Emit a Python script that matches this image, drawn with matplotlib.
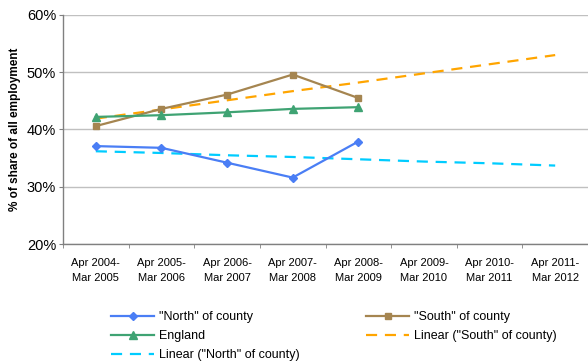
import numpy as np
import matplotlib
matplotlib.use('Agg')
import matplotlib.pyplot as plt
from matplotlib.ticker import FixedLocator, PercentFormatter

plt.rcParams['font.family'] = ['Liberation Sans', 'DejaVu Sans']

periods = ['Apr 2004-\nMar 2005', 'Apr 2005-\nMar 2006', 'Apr 2006-\nMar 2007',
           'Apr 2007-\nMar 2008', 'Apr 2008-\nMar 2009', 'Apr 2009-\nMar 2010',
           'Apr 2010-\nMar 2011', 'Apr 2011-\nMar 2012']

north = [37.1, 36.8, 34.2, 31.6, 37.9]
south = [40.6, 43.6, 46.1, 49.6, 45.5]
england = [42.2, 42.5, 43.0, 43.6, 43.9]
# trend lines
trend_south = [41.9, 43.5, 45.1, 46.7, 48.2, 49.8, 51.4, 53.0]
trend_north = [36.2, 35.9, 35.5, 35.2, 34.8, 34.4, 34.1, 33.7]

fig = plt.figure(figsize=(5.88, 3.62), dpi=100)
ax = fig.add_axes([63/588, 1 - 244/362, 1 - 63/588, (244 - 15)/362])

x_obs = np.arange(len(north))
x_all = np.arange(len(periods))

l_north, = ax.plot(x_obs, north, color='#4a7ef5', marker='D', markersize=4, lw=1.6,
                   label='"North" of county', zorder=4)
l_south, = ax.plot(x_obs, south, color='#a58550', marker='s', markersize=5, lw=1.6,
                   label='"South" of county', zorder=4)
l_eng, = ax.plot(x_obs, england, color='#3fa373', marker='^', markersize=6, lw=1.6,
                 label='England', zorder=4)
l_ts, = ax.plot(x_all, trend_south, color='#ffa500', lw=1.6, dashes=(5, 3.5),
                label='Linear ("South" of county)', zorder=3)
l_tn, = ax.plot(x_all, trend_north, color='#00ccff', lw=1.6, dashes=(5, 3.5),
                label='Linear ("North" of county)', zorder=3)

ax.set_xlim(-0.5, len(periods) - 0.5)
ax.set_ylim(20, 60)
ax.set_yticks([20, 30, 40, 50, 60])
ax.yaxis.set_major_formatter(PercentFormatter(decimals=0))
ax.set_xticks(x_all)
ax.set_xticklabels(periods, fontsize=8, linespacing=1.6)
ax.xaxis.set_minor_locator(FixedLocator(np.arange(-0.5, len(periods), 1)))
ax.tick_params(axis='x', which='major', length=0, pad=10)
ax.tick_params(axis='x', which='minor', length=3, color='#808080')
ax.tick_params(axis='y', length=3, color='#808080', labelsize=10.5, pad=2)

ax.grid(axis='y', color='#c0c0c0', lw=1)
ax.set_axisbelow(True)
for s in ['top', 'right']:
    ax.spines[s].set_visible(False)
for s in ['left', 'bottom']:
    ax.spines[s].set_color('#808080')
    ax.spines[s].set_linewidth(1)

ax.set_ylabel('% of share of all employment', fontsize=8.5, fontweight='bold', labelpad=4)

fig.legend(handles=[l_north, l_eng, l_tn, l_south, l_ts], ncol=2, fontsize=9,
           loc='upper left', bbox_to_anchor=(100/588, 1 - 300/362), frameon=False,
           handlelength=3.4, handletextpad=0.45, columnspacing=5.3, labelspacing=0.55)

fig.savefig('out.png', dpi=100)
